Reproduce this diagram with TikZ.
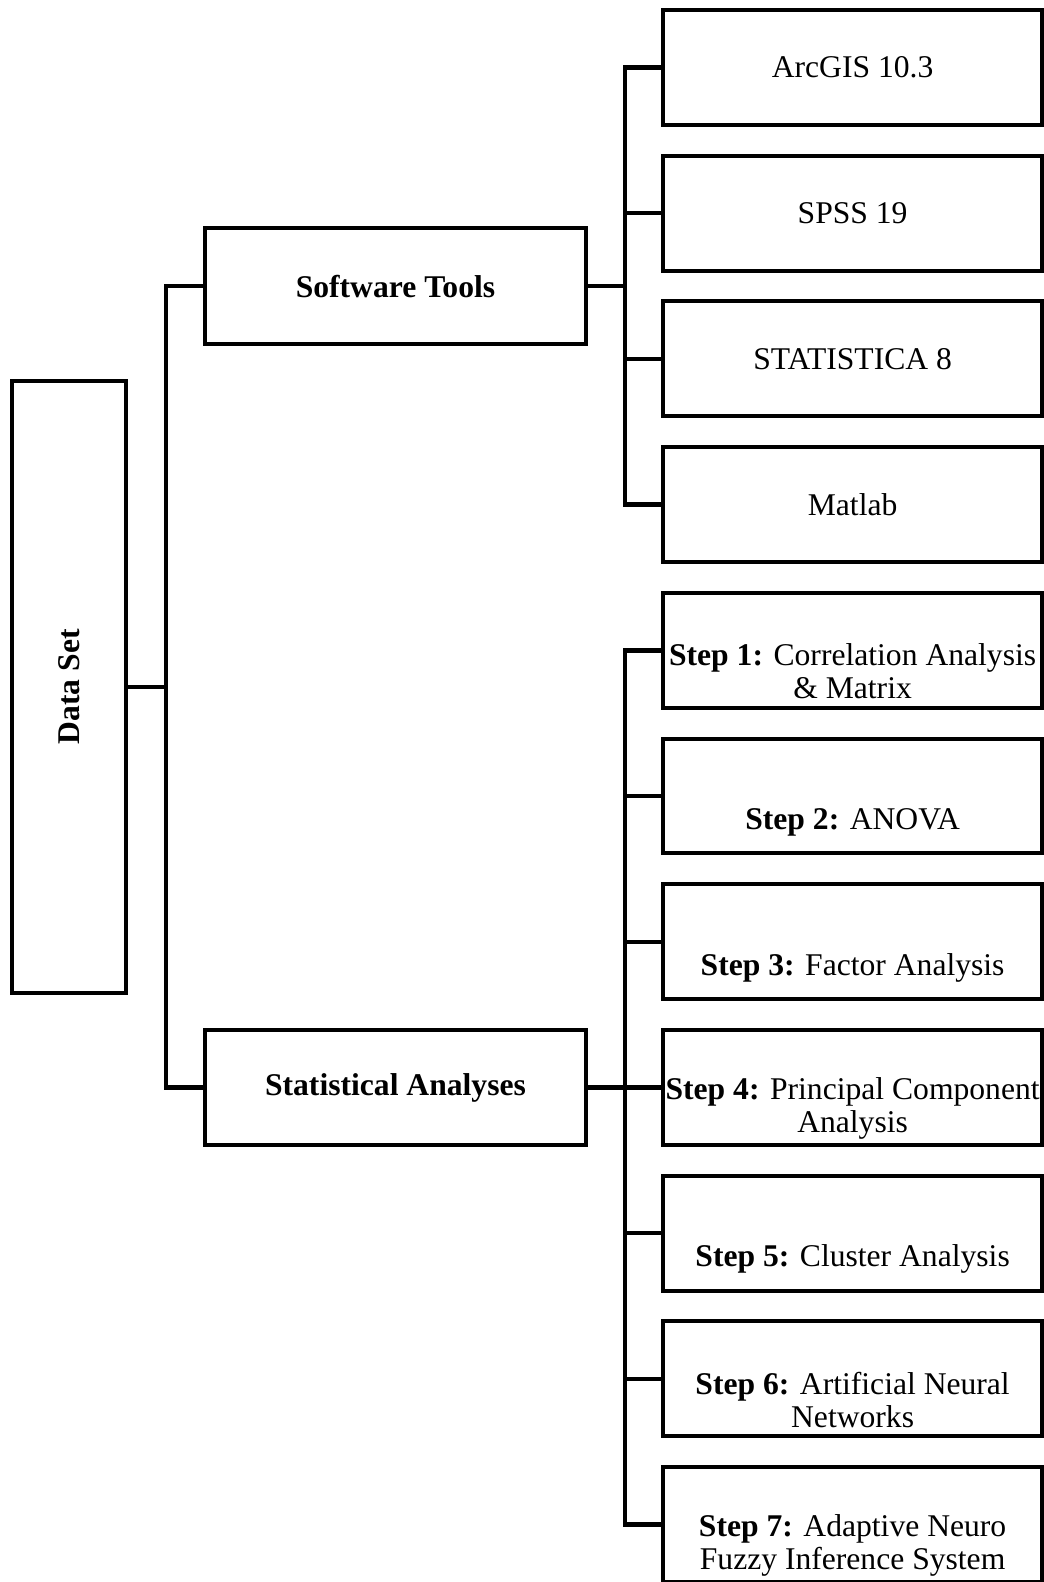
\documentclass[tikz,border=0pt]{standalone}
\usepackage{fontspec}
\setmainfont{Liberation Serif}
\usetikzlibrary{positioning, calc}
\tikzset{
    toolbox/.style={
        rectangle, minimum width=10.03cm, minimum height=3.04cm,
        text centered, draw=black, line width=3pt,
        font=\fontsize{23.8}{24.8}\selectfont
    },
    headbox/.style={
        rectangle, minimum width=10.09cm, minimum height=3.06cm,
        text centered, draw=black, line width=3pt,
        font=\fontsize{23.8}{24.8}\selectfont\bfseries
    },
    databox/.style={
        rectangle, minimum width=3.02cm, minimum height=16.2cm,
        text centered, draw=black, line width=3pt,
        font=\fontsize{23.8}{24.8}\selectfont\bfseries
    },
    steplbl/.style={
        yshift=#1, align=center, inner sep=0pt,
        font=\fontsize{23.8}{24.8}\selectfont
    },
    steplbl/.default=-0.69cm,
    link/.style={
        line width=3.3pt, draw=black
    }
}

\begin{document}
\begin{tikzpicture}[node distance=0.71cm and 1.93cm]

    \useasboundingbox (0,0) rectangle (27.62,-41.86);

    % software column
    \node[toolbox] at (22.56,-1.786)        (arcgis)     {ArcGIS 10.3};
    \node[toolbox, below=of arcgis]         (spss)       {SPSS 19};
    \node[toolbox, below=of spss]           (statistica) {STATISTICA 8};
    \node[toolbox, below=of statistica]     (matlab)     {Matlab};

    % analysis steps
    \node[toolbox, below=of matlab, label={[steplbl=-0.56cm]center:{\textbf{Step 1:} Correlation Analysis\\\& Matrix}}] (step1) {};
    \node[toolbox, below=of step1, label={[steplbl]center:{\textbf{Step 2:} ANOVA}}] (step2) {};
    \node[toolbox, below=of step2, label={[steplbl]center:{\textbf{Step 3:} Factor Analysis}}] (step3) {};
    \node[toolbox, below=of step3, label={[steplbl=-0.56cm]center:{\textbf{Step 4:} Principal Component\\Analysis}}] (step4) {};
    \node[toolbox, below=of step4, label={[steplbl]center:{\textbf{Step 5:} Cluster Analysis}}] (step5) {};
    \node[toolbox, below=of step5, label={[steplbl=-0.56cm]center:{\textbf{Step 6:} Artificial Neural\\Networks}}] (step6) {};
    \node[toolbox, below=of step6, label={[steplbl=-0.56cm]center:{\textbf{Step 7:} Adaptive Neuro\\Fuzzy Inference System}}] (step7) {};

    % middle and root
    \coordinate (swmid) at ($(arcgis.west)!0.5!(matlab.west)$);
    \node[headbox, left=of swmid]           (software)   {Software Tools};
    \node[headbox, left=of step4]           (stats)      {Statistical Analyses};
    \coordinate (dsmid) at ($(software.west)!0.5!(stats.west)$);
    \node[databox, left=1.97cm of dsmid]    (dataset)    {\rotatebox{90}{Data Set}};

    \foreach \n in {arcgis,spss,statistica,matlab}
        \draw[link] (software.east) -- ++(0.97,0) |- (\n.west);
    \foreach \n in {step1,step2,step3,step4,step5,step6,step7}
        \draw[link] (stats.east) -- ++(0.97,0) |- (\n.west);
    \foreach \n in {software,stats}
        \draw[link] (dataset.east) -- ++(1.0,0) |- (\n.west);

\end{tikzpicture}
\end{document}
